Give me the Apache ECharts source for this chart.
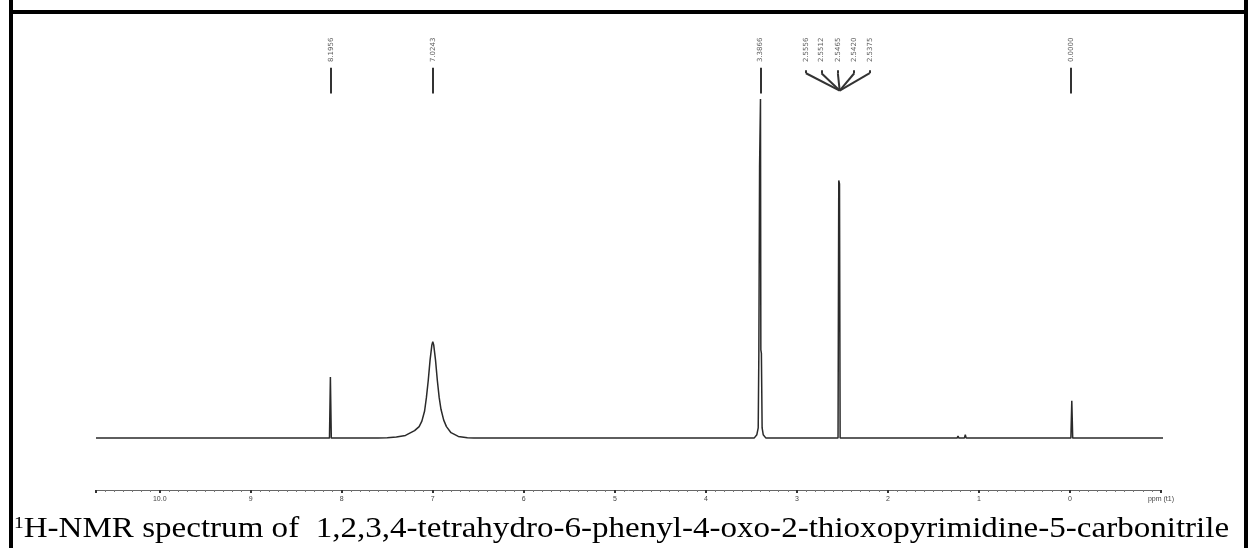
<!DOCTYPE html>
<html>
<head>
<meta charset="utf-8">
<script src="https://cdn.jsdelivr.net/npm/echarts@6/dist/echarts.min.js"></script>
<style>
  html, body { margin: 0; padding: 0; background: #fff; }
  #chart { width: 1248px; height: 548px; }
</style>
</head>
<body>
<div id="chart"></div>
<script>
// chemical shift (ppm) and intensity
const shiftPpm = [10.7, 8.135, 8.125, 8.115, 7.6, 7.5, 7.4, 7.3, 7.2, 7.15, 7.12, 7.09, 7.07, 7.05, 7.03, 7.01, 7.0,
  6.99, 6.97, 6.95, 6.93, 6.91, 6.88, 6.85, 6.8, 6.72, 6.62, 6.55, 3.47, 3.44, 3.425, 3.418, 3.41, 3.404, 3.4, 3.396,
  3.39, 3.382, 3.37, 3.34, 2.548, 2.54, 2.532, 2.525, 1.24, 1.23, 1.22, 1.16, 1.15, 1.14, -0.01, -0.02, -0.03, -1.05];
const intensity = [0, 0, 18, 0, 0, 0.1, 0.3, 0.8, 2.2, 3.4, 5, 8, 12, 17, 23, 27.5, 28.4,
  27.5, 23, 17, 12, 8.5, 5.3, 3.4, 1.6, 0.5, 0.1, 0, 0, 1, 3, 25, 80, 80, 100, 26,
  25, 3, 1, 0, 0, 76, 75, 0, 0, 0.6, 0, 0, 1, 0, 0, 11, 0, 0];

// peak labels printed above the spectrum
const peakLabels = ['8.1956', '7.0243', '3.3866', '2.5556', '2.5512', '2.5465', '2.5420', '2.5375', '0.0000'];
const labelPpm = [8.12, 7.0, 3.40, 2.90, 2.73, 2.55, 2.37, 2.20, -0.01];
const multipletPpm = 2.53;

// axis tick labels
const tickValues = [-1, 0, 1, 2, 3, 4, 5, 6, 7, 8, 9, 10];
const tickLabels = ['ppm (t1)', '0', '1', '2', '3', '4', '5', '6', '7', '8', '9', '10.0'];

const chart = echarts.init(document.getElementById('chart'));

let spectrum = shiftPpm.map((p, i) => [p, intensity[i]]);
let labelData = labelPpm.map((p, i) => [p, 114.5, peakLabels[i]]);

let markers = [];
labelPpm.forEach(function (p, i) {
  if (i >= 3 && i <= 7) {
    markers.push({ coords: [[p, 108.5], [p, 107.6]] });
    markers.push({ coords: [[p, 107.6], [multipletPpm, 102.5]] });
  } else {
    markers.push({ coords: [[p, 109.2], [p, 101.6]] });
  }
});

chart.setOption({
  animation: false,
  grid: { left: 96, right: 87, top: 20, bottom: 58 },
  xAxis: {
    type: 'value',
    inverse: true,
    min: -1,
    max: 10.7,
    interval: 1,
    axisLine: { onZero: false, lineStyle: { color: '#666', width: 1 } },
    axisTick: { show: true, length: 3, inside: false, lineStyle: { color: '#333', width: 2 } },
    minorTick: { show: true, splitNumber: 10, length: 2, lineStyle: { color: '#777' } },
    splitLine: { show: false },
    axisLabel: {
      fontSize: 7,
      color: '#444',
      margin: 6,
      formatter: function (v) {
        let i = tickValues.indexOf(Math.round(v));
        return i >= 0 ? tickLabels[i] : '';
      }
    }
  },
  yAxis: {
    type: 'value',
    show: false,
    min: -15.3,
    max: 123.3
  },
  series: [
    {
      type: 'line',
      data: spectrum,
      showSymbol: false,
      lineStyle: { color: '#2a2a2a', width: 1.5 },
      z: 3
    },
    {
      type: 'lines',
      coordinateSystem: 'cartesian2d',
      data: markers,
      lineStyle: { color: '#333', width: 2, opacity: 1 },
      z: 2
    },
    {
      type: 'scatter',
      data: labelData,
      symbolSize: 0,
      label: {
        show: true,
        position: 'inside',
        rotate: 90,
        fontSize: 7,
        color: '#333',
        fontFamily: 'DejaVu Sans',
        formatter: function (d) { return d.data[2]; }
      }
    }
  ],
  graphic: [
    { type: 'rect', shape: { x: 9, y: 0, width: 4, height: 548 }, style: { fill: '#000' } },
    { type: 'rect', shape: { x: 9, y: 10, width: 1239, height: 4 }, style: { fill: '#000' } },
    { type: 'rect', shape: { x: 1244, y: 0, width: 4, height: 548 }, style: { fill: '#000' } },
    {
      type: 'text',
      x: 14,
      y: 515,
      scaleX: 1.14,
      style: {
        text: '{sup|1}{main|H-NMR spectrum of  1,2,3,4-tetrahydro-6-phenyl-4-oxo-2-thioxopyrimidine-5-carbonitrile}',
        rich: {
          sup: { fontSize: 17, fontFamily: 'Liberation Serif', fill: '#000', verticalAlign: 'top', padding: [0, 0, 12, 0] },
          main: { fontSize: 29, fontFamily: 'Liberation Serif', fill: '#000' }
        }
      }
    }
  ]
});
</script>
</body>
</html>
